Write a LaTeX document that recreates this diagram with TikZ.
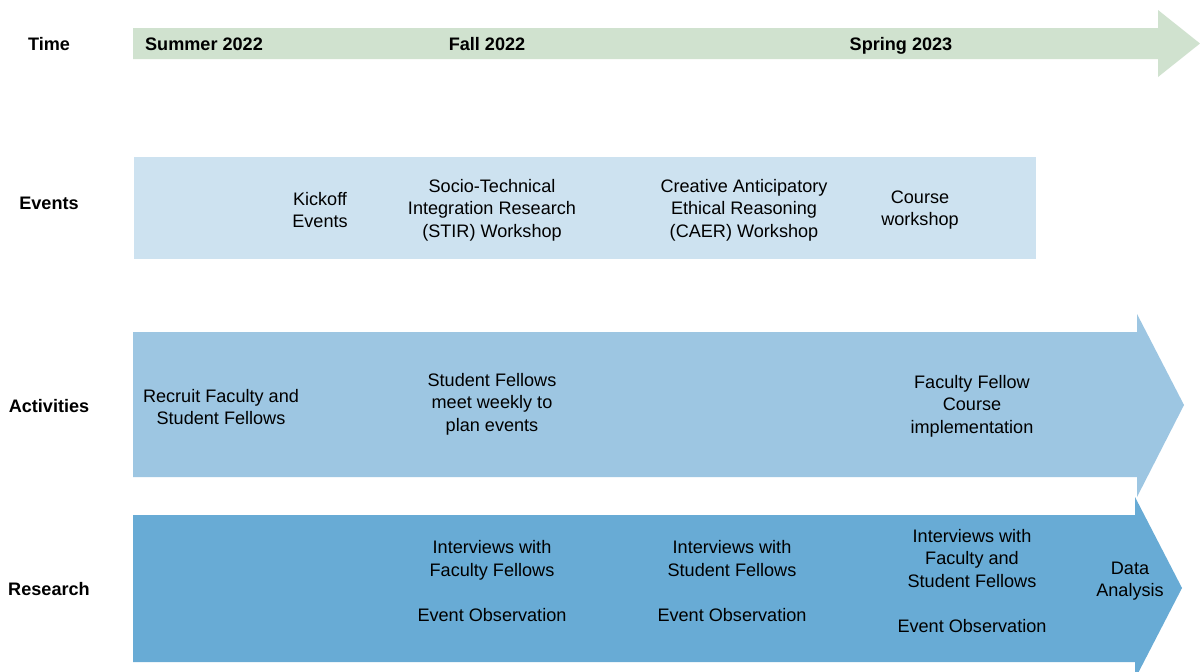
\documentclass[tikz,border=0pt]{standalone}
\usepackage{fontspec}
\setmainfont{Liberation Sans}
\definecolor{timegreen}{RGB}{208,226,207}
\definecolor{eventblue}{RGB}{205,226,240}
\definecolor{actblue}{RGB}{157,198,226}
\definecolor{resblue}{RGB}{104,171,213}
\begin{document}
\begin{tikzpicture}[x=1pt,y=-1pt,
  rowlabel/.style={font=\fontsize{18.1}{22.7}\selectfont\bfseries, inner sep=0pt,
    text height=0.72em, text depth=0.2em, yshift=-3.5pt},
  txt/.style={font=\fontsize{18.1}{22.6}\selectfont, align=center, inner sep=0pt, yshift=-1pt}]
\useasboundingbox (0,0) rectangle (1200,672);
\fill[white] (0,0) rectangle (1200,672);

% band shapes
\fill[timegreen] (133,28) -- (1158,28) -- (1158,10) -- (1200,43.5) -- (1158,77) -- (1158,59) -- (133,59) -- cycle;
\fill[eventblue] (134,157) rectangle (1036,259);
\fill[actblue] (133,332) -- (1137,332) -- (1137,314) -- (1184,405) -- (1137,497) -- (1137,477) -- (133,477) -- cycle;
\fill[resblue] (133,515) -- (1135,515) -- (1135,497) -- (1182,588) -- (1135,679) -- (1135,662) -- (133,662) -- cycle;

% row labels
\node[rowlabel] (ltime) at (49,44) {Time};
\node[rowlabel] (levents) at (49,203) {Events};
\node[rowlabel] (lact) at (49,406) {Activities};
\node[rowlabel] (lres) at (49,589) {Research};

% time periods
\node[rowlabel] (summer) at (204,44) {Summer 2022};
\node[rowlabel] (fall) at (487,44) {Fall 2022};
\node[rowlabel] (spring) at (901,44) {Spring 2023};

% events
\node[txt] (kickoff) at (320,209) {Kickoff\\Events};
\node[txt] (stir) at (492,209) {Socio-Technical\\Integration Research\\(STIR) Workshop};
\node[txt] (caer) at (744,209) {Creative Anticipatory\\Ethical Reasoning\\(CAER) Workshop};
\node[txt] (course) at (920,209) {Course\\workshop};

% activities
\node[txt] (recruit) at (221,406) {Recruit Faculty and\\Student Fellows};
\node[txt] (weekly) at (492,403) {Student Fellows\\meet weekly to\\plan events};
\node[txt] (impl) at (972,405) {Faculty Fellow\\Course\\implementation};

% research
\node[txt] (rfac) at (492,580) {Interviews with\\Faculty Fellows\\[22.6pt]Event Observation};
\node[txt] (rstu) at (732,580) {Interviews with\\Student Fellows\\[22.6pt]Event Observation};
\node[txt] (rboth) at (972,580) {Interviews with\\Faculty and\\Student Fellows\\[22.6pt]Event Observation};
\node[txt] (data) at (1130,580) {Data\\Analysis};
\end{tikzpicture}
\end{document}
